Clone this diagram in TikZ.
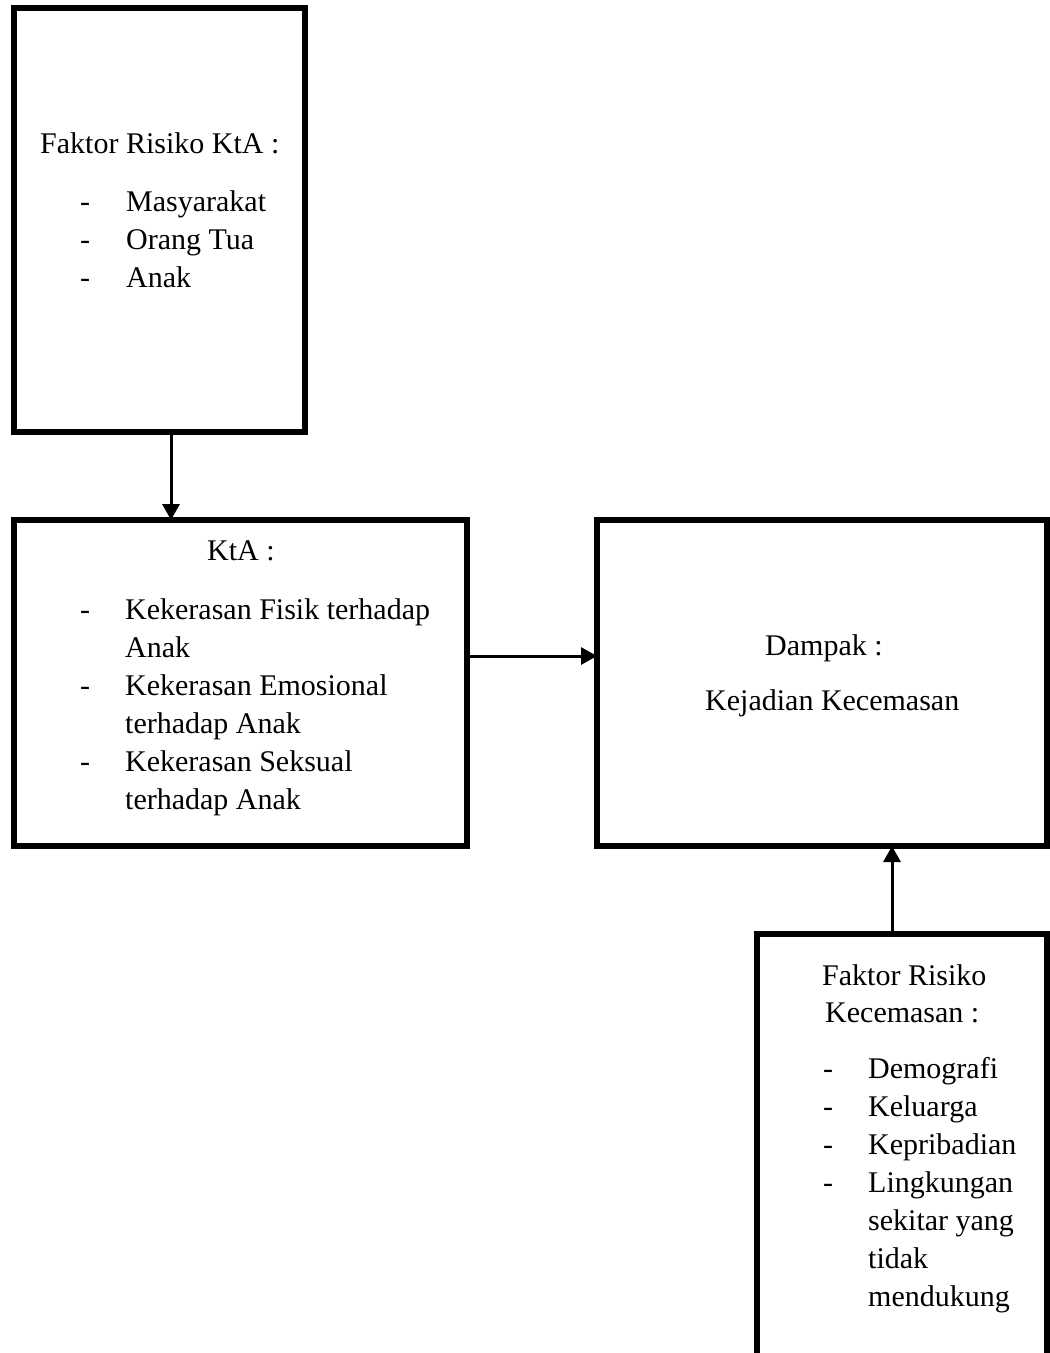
\documentclass[tikz,border=0pt]{standalone}
\usepackage{fontspec}
\setmainfont{Liberation Serif}
\usetikzlibrary{arrows.meta}
\begin{document}
\begin{tikzpicture}[x=1pt,y=-1pt,
  box/.style={draw, line width=5.5pt, rectangle, inner sep=0pt, outer sep=0pt, anchor=north west},
  txt/.style={inner sep=0pt, anchor=base west, font=\fontsize{30}{38}\selectfont},
  link/.style={line width=3pt, -{Triangle[width=17pt,length=16pt]}}]
\useasboundingbox (0,0) rectangle (1050,1353);

% boxes
\node[box, minimum width=291pt, minimum height=424pt] (b1) at (14,8) {};
\node[box, minimum width=453pt, minimum height=326pt] (b2) at (14,520) {};
\node[box, minimum width=450pt, minimum height=326pt] (b3) at (597,520) {};
\node[box, minimum width=290pt, minimum height=500pt] (b4) at (757,934) {};

% risk factors of KtA
\node[txt] (t1h) at (40,153) {Faktor Risiko KtA :};
\node[txt] (t1l) at (80,211) {\begin{tabular}[t]{@{}p{46pt}@{}l@{}}
- & Masyarakat\\
- & Orang Tua\\
- & Anak
\end{tabular}};

% forms of KtA
\node[txt] (t2h) at (207,560) {KtA :};
\node[txt] (t2l) at (80,619) {\begin{tabular}[t]{@{}p{45pt}@{}l@{}}
- & Kekerasan Fisik terhadap\\
  & Anak\\
- & Kekerasan Emosional\\
  & terhadap Anak\\
- & Kekerasan Seksual\\
  & terhadap Anak
\end{tabular}};

% impact
\node[txt] (t3a) at (765,655) {Dampak :};
\node[txt] (t3b) at (705,710) {Kejadian Kecemasan};

% risk factors of anxiety
\node[txt] (t4h) at (822,985) {Faktor Risiko};
\node[txt] (t4i) at (825,1022) {Kecemasan :};
\node[txt] (t4l) at (823,1078) {\begin{tabular}[t]{@{}p{45pt}@{}l@{}}
- & Demografi\\
- & Keluarga\\
- & Kepribadian\\
- & Lingkungan\\
  & sekitar yang\\
  & tidak\\
  & mendukung
\end{tabular}};

% connectors
\draw[link] (b1.south -| 171,0) -- (b2.north -| 171,0);
\draw[link] (b2.east |- 0,656) -- (b3.west |- 0,656);
\draw[link] (b4.north -| 892,0) -- (b3.south -| 892,0);
\end{tikzpicture}
\end{document}
